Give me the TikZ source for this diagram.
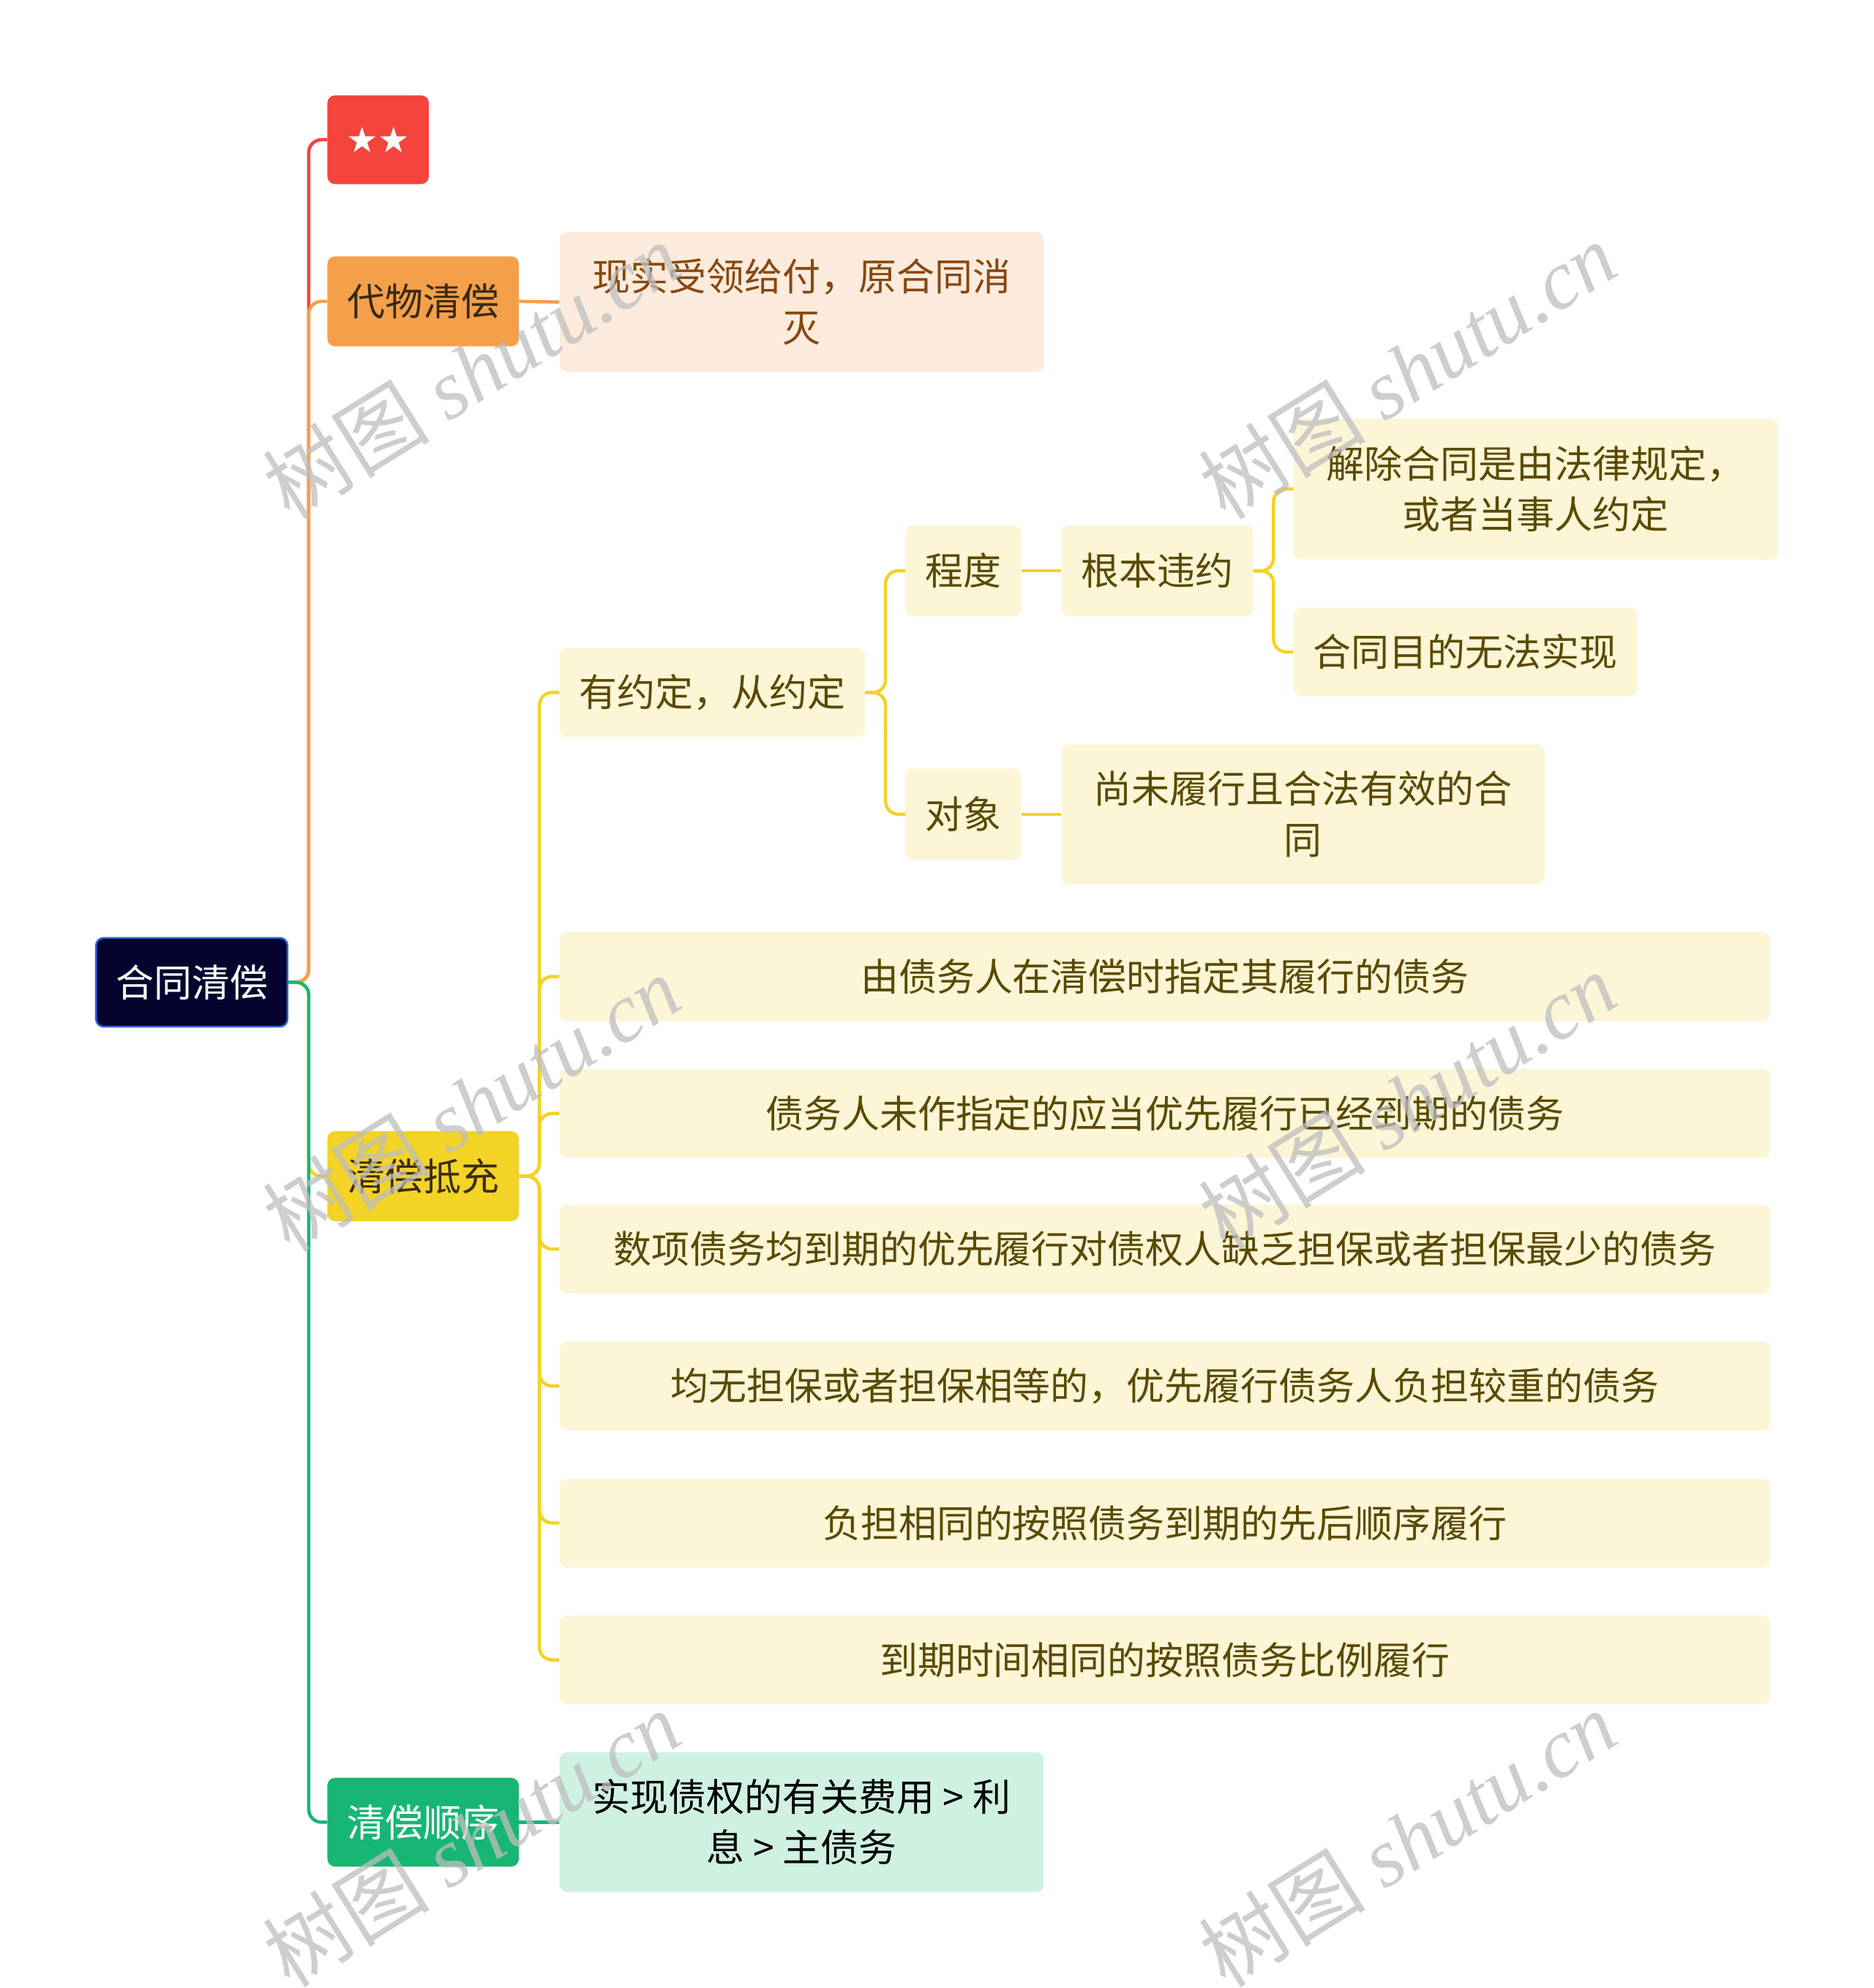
\documentclass[tikz,border=0pt]{standalone}
\usepackage{fontspec}
\setmainfont{Noto Sans CJK SC}
\newfontfamily\starfont{DejaVu Sans}
\newfontfamily\wmlatin{Liberation Serif}
\definecolor{cRed}{HTML}{F4443C}
\definecolor{cOrange}{HTML}{F4A04B}
\definecolor{cYellow}{HTML}{F2D326}
\definecolor{cGreen}{HTML}{17B674}
\definecolor{cRoot}{HTML}{04042E}
\definecolor{cRootB}{HTML}{3060D8}
\definecolor{cPeach}{HTML}{FDEBDD}
\definecolor{cPeachT}{HTML}{874810}
\definecolor{cLY}{HTML}{FCF5D6}
\definecolor{cLYT}{HTML}{5A4A00}
\definecolor{cMint}{HTML}{CFF1E2}
\definecolor{cDark}{HTML}{3A2A12}
\definecolor{cWM}{HTML}{BEBEBE}
\tikzset{
  box/.style={rectangle, rounded corners=6pt, inner sep=0pt, align=center,
    anchor=north west, font=\fontsize{30}{40}\selectfont},
  lybox/.style={box, fill=cLY, text=cLYT},
  conn/.style={line width=2.6pt, rounded corners=10pt},
  wm/.style={rotate=32, text=cWM, opacity=0.75, font=\fontsize{66}{66}\selectfont}
}
\begin{document}
\begin{tikzpicture}[x=1pt,y=-1pt]
\useasboundingbox (0,0) rectangle (1477.4,1568);
% main nodes
\node[box, fill=cRoot, draw=cRootB, line width=1.5pt, text=white, minimum width=151, minimum height=70] (root) at (75,739) {合同清偿};
\node[box, fill=cRed, text=white, minimum width=80, minimum height=70, font=\starfont\fontsize{28}{28}\selectfont] (star) at (258,75) {★★};
\node[box, fill=cOrange, text=cDark, minimum width=151, minimum height=71] (daiwu) at (258,202) {代物清偿};
\node[box, fill=cYellow, text=cDark, minimum width=151, minimum height=71] (qcdc) at (258,892) {清偿抵充};
\node[box, fill=cGreen, text=white, minimum width=151, minimum height=70] (qcsx) at (258,1402) {清偿顺序};
% children
\node[box, fill=cPeach, text=cPeachT, minimum width=382, minimum height=110] (xianshi) at (441,183) {现实受领给付，原合同消\\灭};
\node[lybox, minimum width=241, minimum height=70] (youyue) at (441,511) {有约定，从约定};
\node[lybox, minimum width=91, minimum height=72] (chengdu) at (714,414) {程度};
\node[lybox, minimum width=91, minimum height=72] (duixiang) at (714,606) {对象};
\node[lybox, minimum width=151, minimum height=72] (genben) at (837,414) {根本违约};
\node[lybox, minimum width=382, minimum height=111] (jiechu) at (1020,330) {解除合同是由法律规定，\\或者当事人约定};
\node[lybox, minimum width=271, minimum height=70] (mudi) at (1020,479) {合同目的无法实现};
\node[lybox, minimum width=381, minimum height=110] (shangwei) at (837,587) {尚未履行且合法有效的合\\同};
\node[lybox, minimum width=955, minimum height=70] (r1) at (441,735) {由债务人在清偿时指定其履行的债务};
\node[lybox, minimum width=955, minimum height=70] (r2) at (441,843) {债务人未作指定的应当优先履行已经到期的债务};
\node[lybox, minimum width=955, minimum height=70] (r3) at (441,950) {数项债务均到期的优先履行对债权人缺乏担保或者担保最少的债务};
\node[lybox, minimum width=955, minimum height=70] (r4) at (441,1058) {均无担保或者担保相等的，优先履行债务人负担较重的债务};
\node[lybox, minimum width=955, minimum height=70] (r5) at (441,1166) {负担相同的按照债务到期的先后顺序履行};
\node[lybox, minimum width=955, minimum height=70] (r6) at (441,1274) {到期时间相同的按照债务比例履行};
\node[box, fill=cMint, text=black, minimum width=382, minimum height=110] (mint) at (441,1382) {实现债权的有关费用 > 利\\息 > 主债务};
% connectors from root
\draw[conn, cRed] (root.east) -- ++(16,0) |- (star.west);
\draw[conn, cOrange] (root.east) -- ++(16,0) |- (daiwu.west);
\draw[conn, cYellow] (root.east) -- ++(16,0) |- (qcdc.west);
\draw[conn, cGreen] (root.east) -- ++(16,0) |- (qcsx.west);
% level 2
\draw[conn, cOrange] (daiwu.east) -- (xianshi.west);
\draw[conn, cGreen] (qcsx.east) -- (mint.west);
\foreach \c in {youyue, r1, r2, r3, r4, r5, r6}
  \draw[conn, cYellow] (qcdc.east) -- ++(16,0) |- (\c.west);
\foreach \c in {chengdu, duixiang}
  \draw[conn, cYellow] (youyue.east) -- ++(16,0) |- (\c.west);
\draw[conn, cYellow] (chengdu.east) -- (genben.west);
\draw[conn, cYellow] (duixiang.east) -- (shangwei.west);
\foreach \c in {jiechu, mudi}
  \draw[conn, cYellow] (genben.east) -- ++(16,0) |- (\c.west);
% watermarks
\foreach \p [count=\i] in {(372,292),(372,870),(372,1450),(1110,292),(1110,868),(1110,1450)}
  \node[wm] (wm\i) at \p {树图 {\wmlatin\itshape shutu.cn}};
\end{tikzpicture}
\end{document}
